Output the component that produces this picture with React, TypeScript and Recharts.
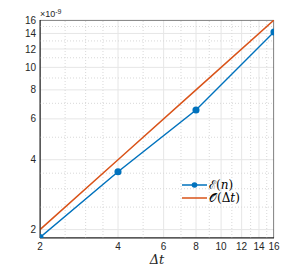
import {
  CartesianGrid,
  Line,
  LineChart,
  ReferenceArea,
  ReferenceLine,
  XAxis,
  YAxis,
} from "recharts";

const dtValues = [2, 4, 8, 16];
const errorValues = [1.85e-9, 3.55e-9, 6.55e-9, 14.2e-9];
const orderValues = [2e-9, 4e-9, 8e-9, 16e-9];

const xTicks = [2, 4, 6, 8, 10, 12, 14, 16];
const yTicks = [2e-9, 4e-9, 6e-9, 8e-9, 10e-9, 12e-9, 14e-9, 16e-9];
const xMinor = [2.5, 3, 3.5, 5, 7, 9, 11, 13, 15];
const yMinor = [2.5e-9, 3e-9, 3.5e-9, 5e-9, 7e-9, 9e-9, 11e-9, 13e-9, 15e-9];

const X_MIN = 2;
const X_MAX = 16;
const Y_MIN = 1.84e-9;
const Y_MAX = 16e-9;

const BLUE = "#0072BD";
const ORANGE = "#D95319";
const AXIS = "#262626";

const data = dtValues.map((dt, i) => ({
  dt,
  err: errorValues[i],
  order: orderValues[i],
}));

const tickStyle = { fontSize: 10, fill: AXIS, fontFamily: "Liberation Sans, Arial, sans-serif" };

function LegendBox() {
  const row = (color: string, dot: boolean, label: React.ReactNode) => (
    <div style={{ display: "flex", alignItems: "center", height: 13 }}>
      <svg width={28} height={10}>
        <line x1={2} y1={5} x2={27} y2={5} stroke={color} strokeWidth={1.5} />
        {dot && <circle cx={14.5} cy={5} r={2.8} fill={color} />}
      </svg>
      <span style={{ fontFamily: "DejaVu Serif, serif", fontSize: 12, color: "#000", marginLeft: 1 }}>
        {label}
      </span>
    </div>
  );
  return (
    <div style={{ position: "absolute", left: 180, top: 178 }}>
      {row(BLUE, true, <>ℰ(<i>n</i>)</>)}
      {row(ORANGE, false, <>𝒪(Δ<i>t</i>)</>)}
    </div>
  );
}

export default function App() {
  return (
    <div style={{ position: "absolute", left: 0, top: 0, width: 302, height: 268 }}>
      <LineChart
        width={302}
        height={268}
        data={data}
        margin={{ top: 20, right: 28, bottom: 0, left: 0 }}
      >
        <CartesianGrid stroke="#e6e6e6" vertical horizontal />
        <XAxis
          dataKey="dt"
          type="number"
          scale="log"
          domain={[X_MIN, X_MAX]}
          ticks={xTicks}
          interval={0}
          allowDataOverflow
          height={30}
          tick={tickStyle}
          tickLine={false}
          axisLine={{ stroke: AXIS }}
          tickSize={3}
          tickMargin={2}
          label={{
            value: "Δt",
            position: "insideBottom",
            offset: 4,
            style: { fontSize: 13, fontStyle: "italic", fill: AXIS, fontFamily: "DejaVu Serif, serif" },
          }}
        />
        <YAxis
          type="number"
          scale="log"
          domain={[Y_MIN, Y_MAX]}
          ticks={yTicks}
          interval={0}
          allowDataOverflow
          width={40}
          tick={tickStyle}
          tickLine={false}
          axisLine={{ stroke: AXIS }}
          tickSize={2}
          tickMargin={2}
          tickFormatter={(v: number) => String(Math.round(v * 1e9))}
        />
        {xMinor.map((v) => (
          <ReferenceLine key={"x" + v} x={v} stroke="#d8d8d8" strokeDasharray="1 2" />
        ))}
        {yMinor.map((v) => (
          <ReferenceLine key={"y" + v} y={v} stroke="#d8d8d8" strokeDasharray="1 2" />
        ))}
        <ReferenceArea
          x1={X_MIN}
          x2={X_MAX}
          y1={Y_MIN}
          y2={Y_MAX}
          fill="none"
          stroke={AXIS}
          strokeWidth={1}
          ifOverflow="hidden"
        />
        <Line
          dataKey="err"
          stroke={BLUE}
          strokeWidth={1.5}
          dot={{ r: 2.8, fill: BLUE, stroke: BLUE }}
          isAnimationActive={false}
        />
        <Line
          dataKey="order"
          stroke={ORANGE}
          strokeWidth={1.5}
          dot={false}
          isAnimationActive={false}
        />
      </LineChart>
      <LegendBox />
      <div
        style={{
          position: "absolute",
          left: 40,
          top: 7,
          fontFamily: "Liberation Sans, Arial, sans-serif",
          fontSize: 9,
          color: AXIS,
          lineHeight: "10px",
        }}
      >
        ×10<sup style={{ fontSize: 7, verticalAlign: "3px" }}>-9</sup>
      </div>
    </div>
  );
}
